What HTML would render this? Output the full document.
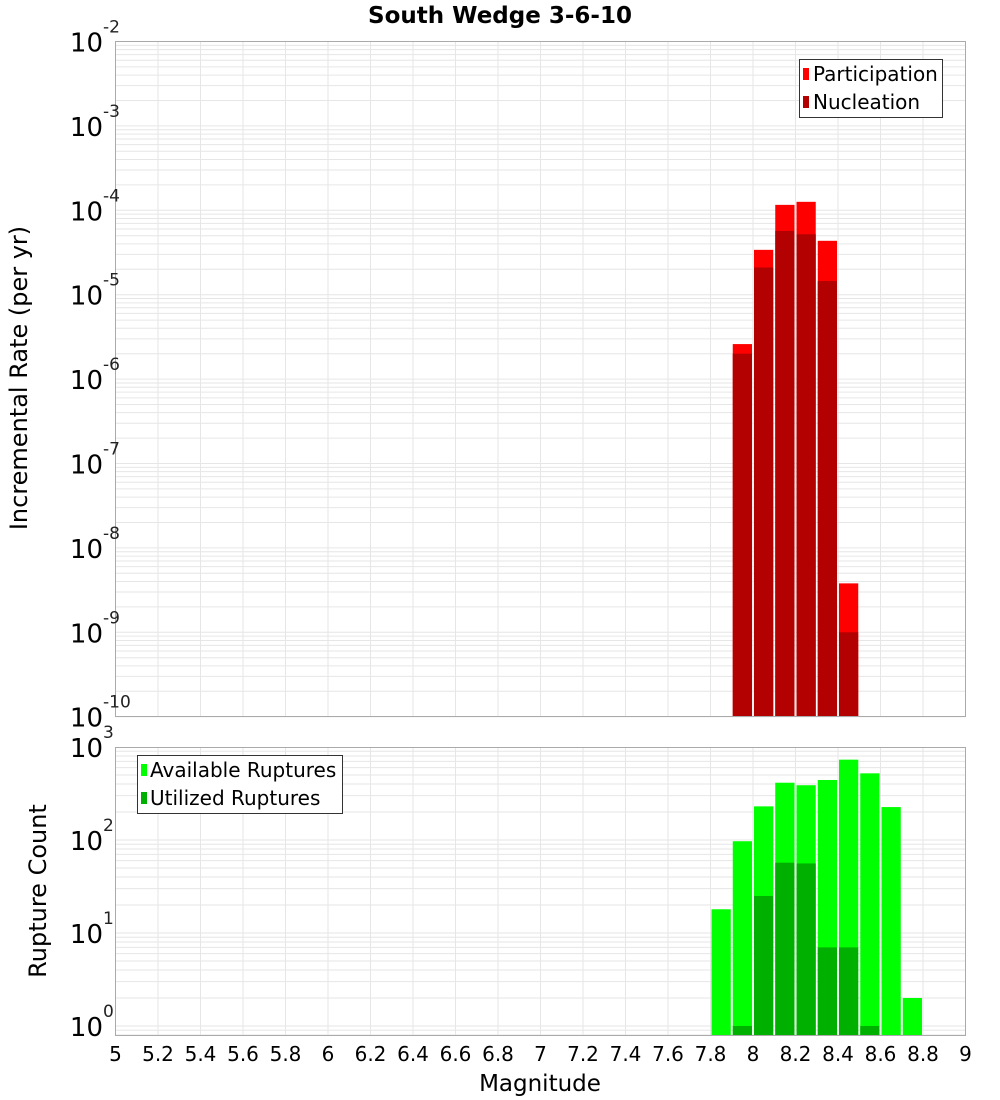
<!DOCTYPE html>
<html><head><meta charset="utf-8"><style>
body{margin:0;background:#fff;}
svg{display:block;font-family:"Liberation Sans","DejaVu Sans",sans-serif;}
</style></head><body>
<svg id="chart" width="1000" height="1100" xmlns="http://www.w3.org/2000/svg">
<text x="500" y="23" text-anchor="middle" font-size="23" font-weight="bold" font-family="DejaVu Sans, sans-serif">South Wedge 3-6-10</text>
<g id="top"></g>
<g id="bot"></g>
<text transform="translate(27,378) rotate(-90)" text-anchor="middle" font-size="24" font-family="DejaVu Sans, sans-serif">Incremental Rate (per yr)</text>
<text transform="translate(46,891) rotate(-90)" text-anchor="middle" font-size="24" font-family="DejaVu Sans, sans-serif">Rupture Count</text>
<text x="540" y="1091" text-anchor="middle" font-size="23" font-family="DejaVu Sans, sans-serif">Magnitude</text>
<g>
<rect x="799.5" y="59.5" width="143" height="58" fill="#fff" stroke="#333"/>
<rect x="803" y="68" width="6" height="12" fill="#ff0000"/>
<text x="813" y="81" font-size="20" font-family="DejaVu Sans, sans-serif">Participation</text>
<rect x="803" y="96" width="6" height="12" fill="#b30000"/>
<text x="813" y="109" font-size="20" font-family="DejaVu Sans, sans-serif">Nucleation</text>
</g>
<g>
<rect x="137.5" y="755.5" width="205" height="58" fill="#fff" stroke="#333"/>
<rect x="141" y="764" width="6" height="12" fill="#00ff00"/>
<text x="150" y="777" font-size="20" font-family="DejaVu Sans, sans-serif">Available Ruptures</text>
<rect x="141" y="792" width="6" height="12" fill="#00b000"/>
<text x="150" y="805" font-size="20" font-family="DejaVu Sans, sans-serif">Utilized Ruptures</text>
</g>
</svg>
<script>
const rateMags = [7.95, 8.05, 8.15, 8.25, 8.35, 8.45];
const participation = [2.6e-6, 3.4e-5, 1.16e-4, 1.26e-4, 4.35e-5, 3.8e-9];
const nucleation = [2.0e-6, 2.1e-5, 5.7e-5, 5.2e-5, 1.45e-5, 1.0e-9];
const countMags = [7.85, 7.95, 8.05, 8.15, 8.25, 8.35, 8.45, 8.55, 8.65, 8.75];
const available = [18, 97, 230, 413, 388, 442, 731, 521, 226, 2];
const utilized = [0, 1, 25, 57, 56, 7, 7, 1, 0, 0];
const xTicks = [5,5.2,5.4,5.6,5.8,6,6.2,6.4,6.6,6.8,7,7.2,7.4,7.6,7.8,8,8.2,8.4,8.6,8.8,9];
const rateExps = [-2,-3,-4,-5,-6,-7,-8,-9,-10];
const countExps = [0,1,2,3];

const NS="http://www.w3.org/2000/svg";
const L=115.5,R=965.5;
const xs=m=>L+(m-5)*(R-L)/4;
const yTop=v=>41.5+(-2-Math.log10(v))*84.4;
const yBot=v=>747+(3-Math.log10(v))*93;
function mk(p,tag,a){const e=document.createElementNS(NS,tag);for(const k in a)e.setAttribute(k,a[k]);p.appendChild(e);return e;}

function frame(g,top,bottom,yf,minE,maxE){
  mk(g,'rect',{x:L,y:top,width:R-L,height:bottom-top,fill:'#fff'});
  for(let e=minE;e<=maxE;e++)for(let k=1;k<10;k++){const y=yf(k*Math.pow(10,e));if(y<top-0.5||y>bottom+0.5)continue;
    const ln=mk(g,'line',{x1:L,x2:R,y1:y,y2:y,stroke:'#e6e6e6','stroke-width':1});
    
    }
  xTicks.forEach(t=>{const ln=mk(g,'line',{x1:xs(t),x2:xs(t),y1:top,y2:bottom,stroke:'#e6e6e6','stroke-width':1});
    
    });
}
function border(g,top,bottom){mk(g,'rect',{x:L,y:top,width:R-L,height:bottom-top,fill:'none',stroke:'#aaa'});}
function bars(g,mags,vals,yf,bottom,color,name){
  mags.forEach((m,i)=>{if(!(vals[i]>0))return;const x0=xs(m-0.05)+1,x1=xs(m+0.05)-1,y=yf(vals[i]);
    const r=mk(g,'rect',{x:x0,y:y,width:x1-x0,height:bottom-y,fill:color});
    
    });
}
function ylab(g,e,y){const t=mk(g,'text',{x:103,y:y+10,'text-anchor':'end','font-size':26,'font-family':'DejaVu Sans, sans-serif'});t.textContent='10';
  
  
  const s=mk(g,'text',{x:103,y:y-9,'font-size':17,fill:'#222','font-family':'DejaVu Sans, sans-serif'});s.textContent=String(e);}

const gt=document.getElementById('top');
frame(gt,41.5,716.5,yTop,-10,-3);
bars(gt,rateMags,participation,yTop,716.5,'#ff0000','participation-bar');
bars(gt,rateMags,nucleation,yTop,716.5,'#b30000','nucleation-bar');
border(gt,41.5,716.5);
rateExps.forEach(e=>ylab(gt,e,yTop(Math.pow(10,e))));

const gb=document.getElementById('bot');
frame(gb,747.5,1035.5,yBot,-1,2);
bars(gb,countMags,available,yBot,1035.5,'#00ff00','available-bar');
bars(gb,countMags,utilized,yBot,1035.5,'#00b000','utilized-bar');
border(gb,747.5,1035.5);
countExps.forEach(e=>ylab(gb,e,yBot(Math.pow(10,e))));
xTicks.forEach(t=>{const tx=mk(gb,'text',{x:xs(t),y:1061,'text-anchor':'middle','font-size':20,'font-family':'DejaVu Sans, sans-serif'});tx.textContent=String(t);
  
  });
</script>
</body></html>
